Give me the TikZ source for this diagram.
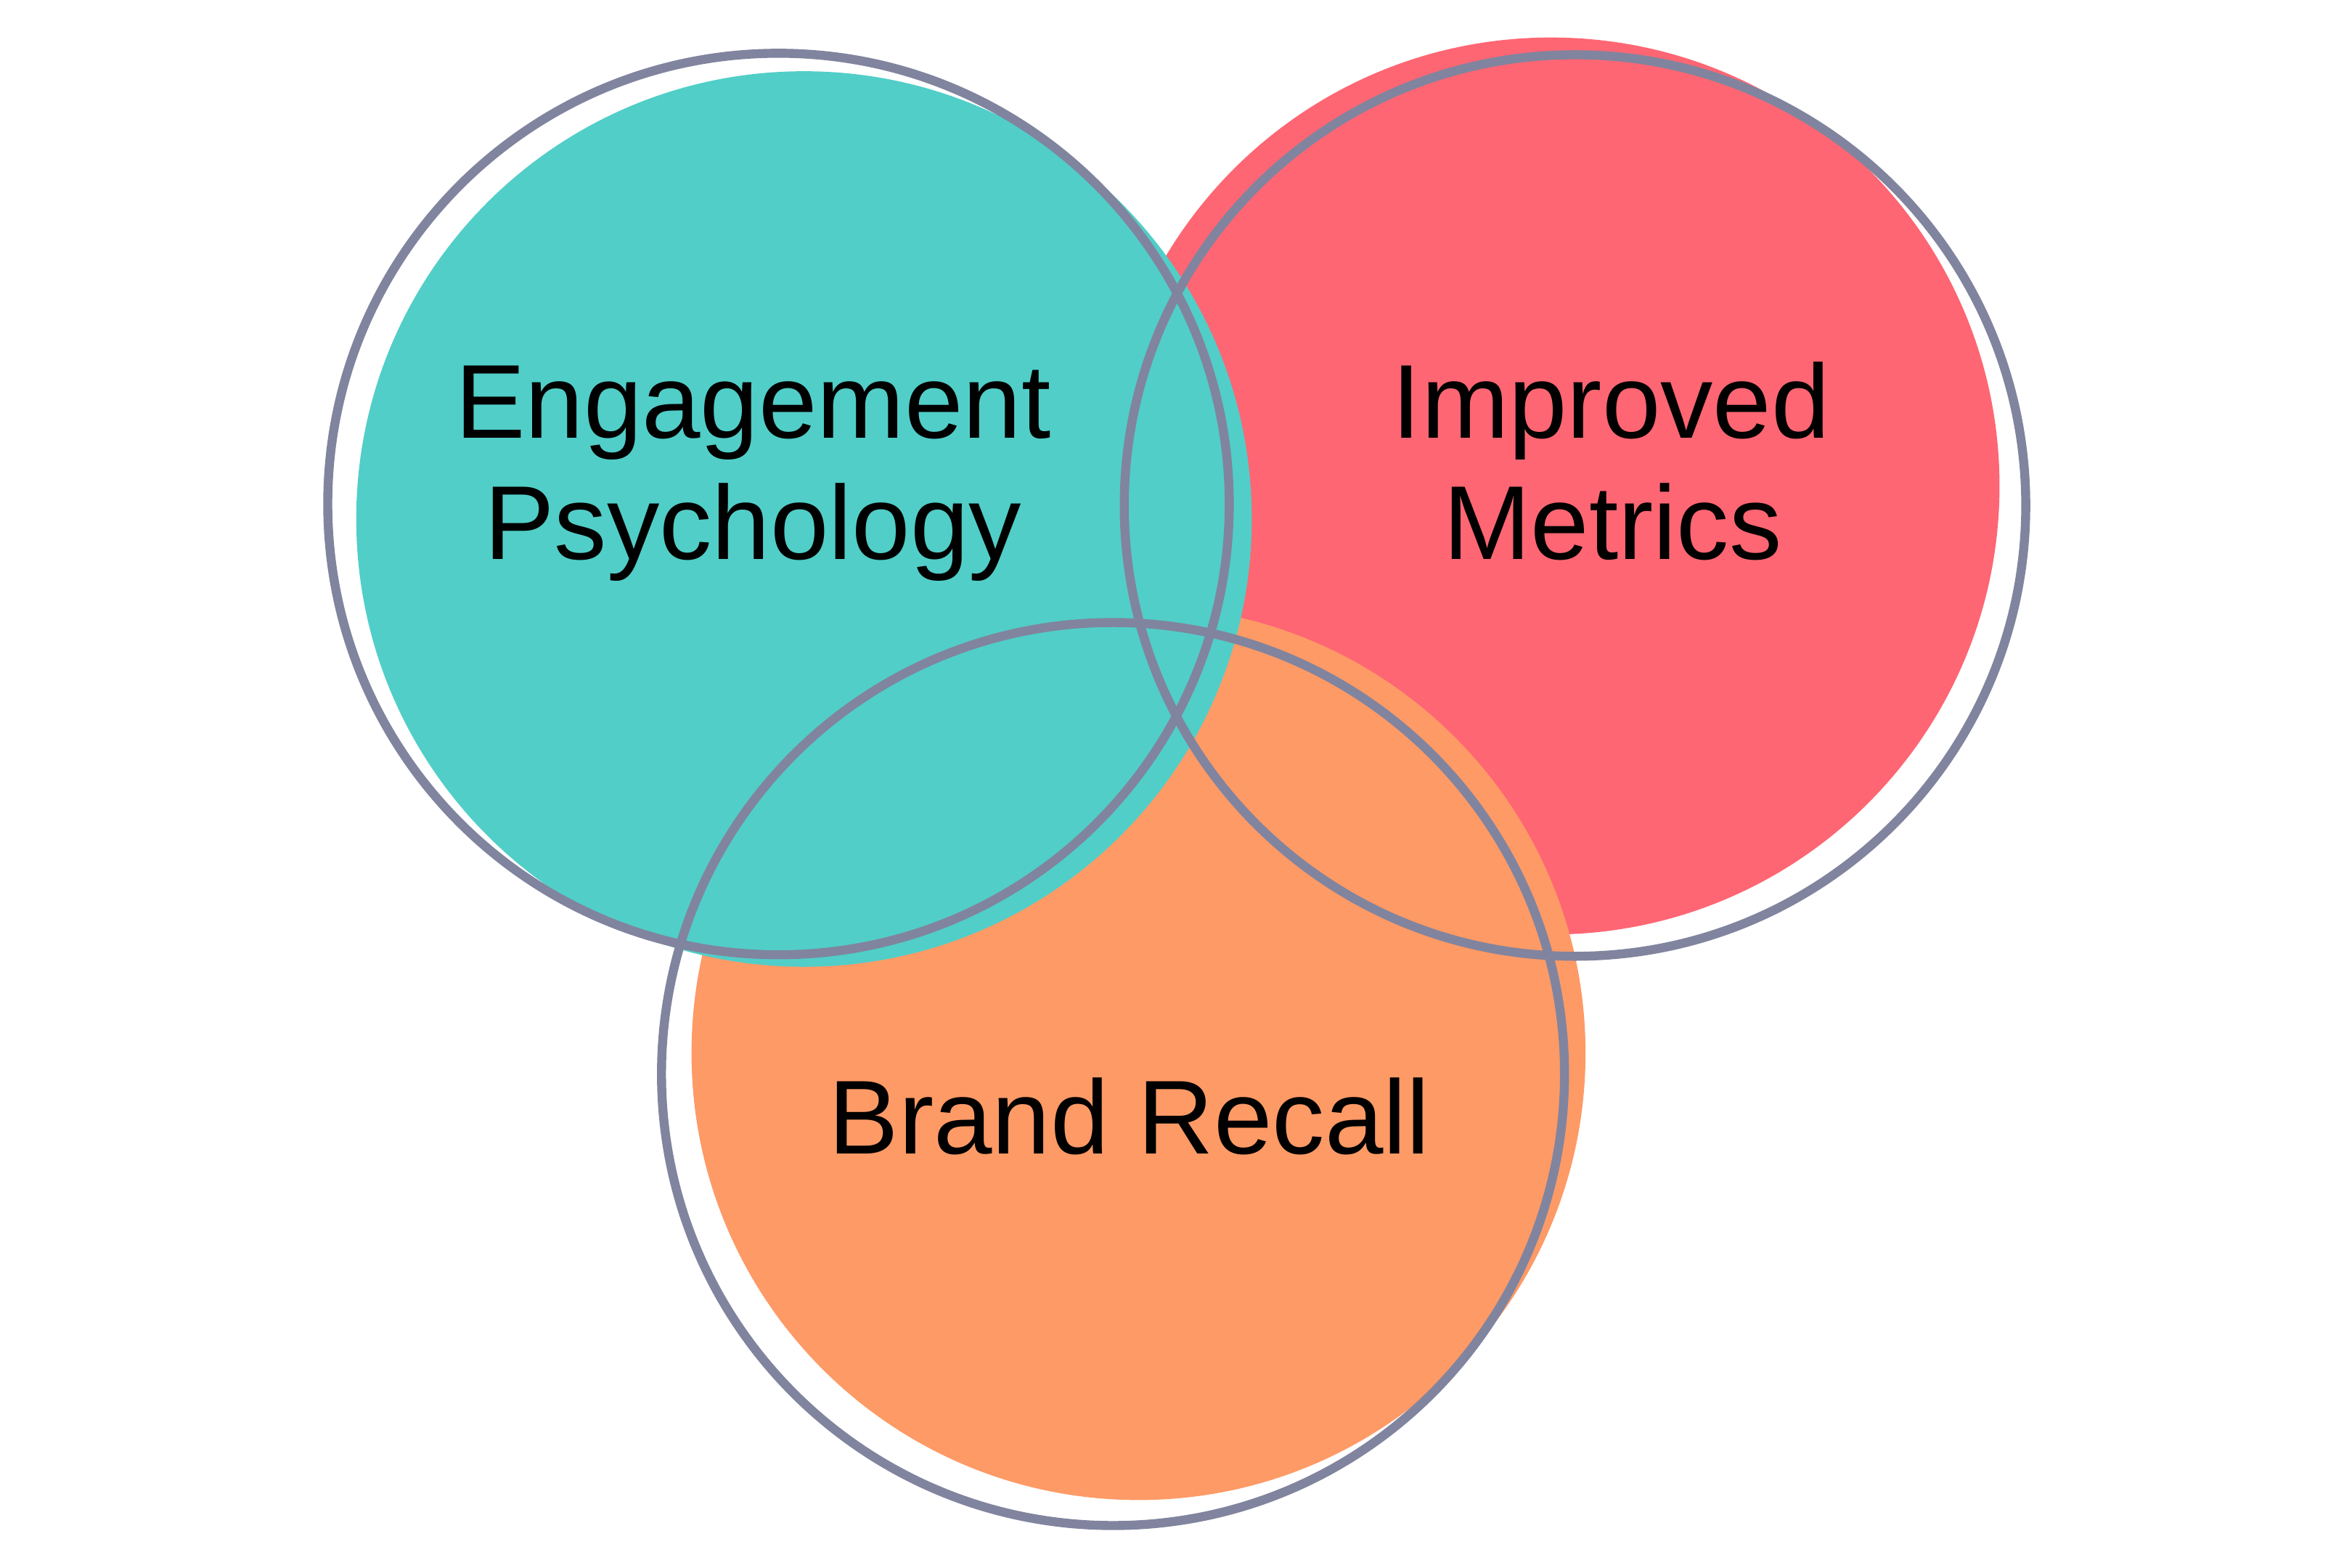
\documentclass[tikz,border=0pt]{standalone}
\usepackage{fontspec}
\newfontfamily\labfont{Liberation Sans}
\definecolor{tealc}{HTML}{51CEC8}
\definecolor{redc}{HTML}{FE6673}
\definecolor{orangec}{HTML}{FE9A66}
\definecolor{strokec}{HTML}{81849E}
\tikzset{
  fillcirc/.style={circle, inner sep=0pt, draw=none},
  ringcirc/.style={circle, inner sep=0pt, draw=strokec, line width=6pt},
  lab/.style={font=\labfont\fontsize{70}{81}\selectfont, text=black, align=center, inner sep=0pt}
}
\begin{document}
\begin{tikzpicture}[x=1pt,y=-1pt]
\useasboundingbox (0,0) rectangle (1568,1045);
\fill[white] (0,0) rectangle (1568,1045);
% filled discs
\node[fillcirc, fill=redc, minimum size=598pt] (redfill) at (1034,324) {};
\node[fillcirc, fill=orangec, minimum size=596pt] (orangefill) at (759,702) {};
\node[fillcirc, fill=tealc, minimum size=597pt] (tealfill) at (536,346) {};
% outlines
\node[ringcirc, minimum size=601pt] (tealring) at (519,336) {};
\node[ringcirc, minimum size=601pt] (redring) at (1050,337) {};
\node[ringcirc, minimum size=602pt] (orangering) at (742,716) {};
% labels
\node[lab, anchor=base] (engtxt) at (502,292) {Engagement};
\node[lab, anchor=base] (psytxt) at (502,373) {Psychology};
\node[lab, anchor=base] (imptxt) at (1074,292) {Improved};
\node[lab, anchor=base] (mettxt) at (1075,373) {Metrics};
\node[lab, anchor=base] (brandtxt) at (753,769) {Brand Recall};
\end{tikzpicture}
\end{document}
